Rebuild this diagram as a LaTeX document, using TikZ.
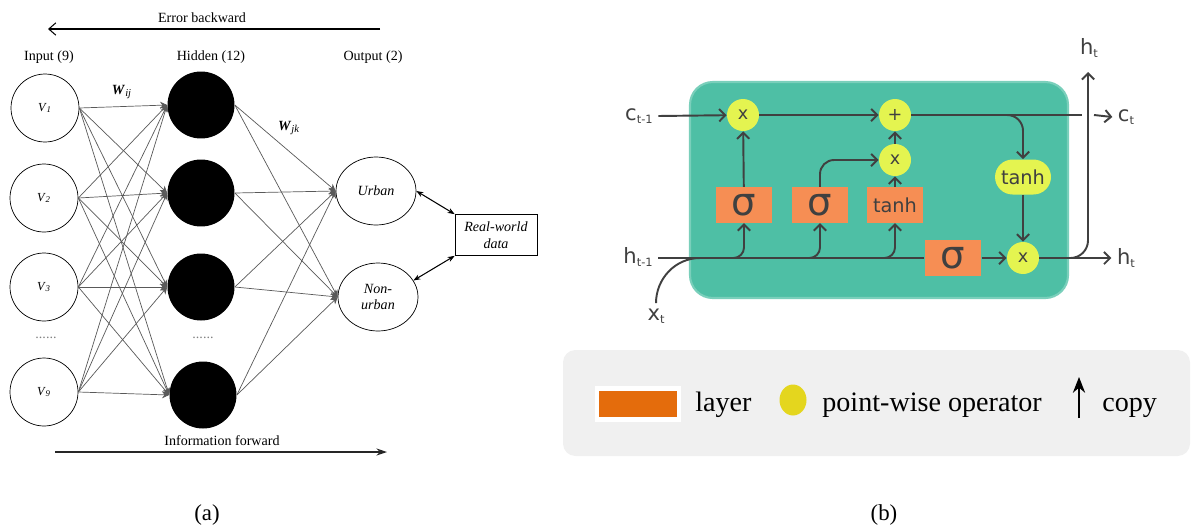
\documentclass[tikz,border=0pt]{standalone}
\usepackage{fontspec}
\setmainfont{Liberation Serif}
\newfontfamily\cellfont{DejaVu Sans}
\usepackage{tikz}
\usetikzlibrary{shapes.geometric, arrows.meta, positioning}

\definecolor{cellgreen}{RGB}{78,191,165}
\definecolor{gateorange}{RGB}{246,142,84}
\definecolor{opyellow}{RGB}{228,244,80}
\definecolor{ink}{RGB}{64,64,64}
\definecolor{keyorange}{RGB}{228,108,12}
\definecolor{keyyellow}{RGB}{228,214,30}
\definecolor{keygray}{RGB}{240,240,240}

\newcommand{\vin}[1]{\textit{V}\textsubscript{\textit{#1}}}
\newcommand{\tsub}[1]{\raisebox{-0.25ex}{\fontsize{6.5}{6.5}\selectfont #1}}

\tikzstyle{heading} = [font=\fontsize{8}{9.5}\selectfont]
\tikzstyle{inputnode} = [circle, minimum size=1.36cm, inner sep=0pt, draw=black, thin, fill=white, font=\fontsize{7}{8}\selectfont]
\tikzstyle{hiddennode} = [circle, minimum size=1.34cm, inner sep=0pt, fill=black]
\tikzstyle{outputnode} = [ellipse, minimum width=1.6cm, minimum height=1.36cm, inner sep=0pt, draw=black, thin, fill=white, align=center, font=\fontsize{8}{9.5}\selectfont\itshape]
\tikzstyle{databox} = [rectangle, minimum width=1.64cm, minimum height=0.82cm, draw=black, thin, align=center, font=\fontsize{8}{9.5}\selectfont\itshape]
\tikzstyle{link} = [draw=gray!70!black, line width=0.4pt, -{Stealth[length=4pt, width=4pt]}]
\tikzstyle{gate} = [rectangle, minimum width=1.13cm, minimum height=0.71cm, inner sep=0pt, fill=gateorange, text=ink, font=\cellfont\fontsize{22}{22}\selectfont]
\tikzstyle{pointwise} = [circle, minimum size=0.64cm, inner sep=0pt, fill=opyellow, text=ink, font=\cellfont\fontsize{10}{10}\selectfont]
\tikzstyle{tag} = [inner sep=0pt, text=ink, font=\cellfont\fontsize{12}{12}\selectfont]
\tikzstyle{wire} = [draw=ink, line width=1.1pt]
\tikzstyle{flow} = [wire, -{Straight Barb[length=3.5pt, width=7pt]}]
\tikzstyle{keytext} = [inner sep=0pt, anchor=base west, font=\fontsize{16}{18}\selectfont]

\begin{document}
\begin{tikzpicture}[x=0.02cm, y=-0.02cm]
	\useasboundingbox (0,0) rectangle (1192,531);

	% ---------- (a) feed-forward network ----------
	\node (errtext) [heading] at (202,18) {Error backward};
	\coordinate (errstart) at (380,29);
	\coordinate (errend) at (48,29);
	\draw [-{Straight Barb[length=4pt, width=7pt]}, line width=0.6pt] (errstart) -- (errend);

	\node (intitle) [heading] at (49,57) {Input (9)};
	\node (hidtitle) [heading] at (211,57) {Hidden (12)};
	\node (outtitle) [heading] at (373,57) {Output (2)};

	\node (in1) [inputnode] at (45,108) {\vin{1}};
	\node (in2) [inputnode] at (44,198) {\vin{2}};
	\node (in3) [inputnode] at (44,287) {\vin{3}};
	\node (in9) [inputnode] at (44,392) {\vin{9}};
	\node (indots) [heading, text=gray] at (46,338) {......};

	\node (hid1) [hiddennode] at (201,105) {};
	\node (hid2) [hiddennode] at (201,193) {};
	\node (hid3) [hiddennode] at (201,287) {};
	\node (hid4) [hiddennode] at (203,395) {};
	\node (hiddots) [heading, text=gray] at (203,338) {......};

	\node (urban) [outputnode] at (376,191) {Urban};
	\node (nonurban) [outputnode] at (378,297) {Non-\\urban};
	\node (data) [databox] at (496,235) {Real-world\\data};

	\foreach \i in {1,2,3,9}
		\foreach \j in {1,2,3,4}
			\draw [link] (in\i.east) -- (hid\j.west);
	\foreach \j in {1,2,3,4}
		\foreach \k in {urban,nonurban}
			\draw [link] (hid\j.east) -- (\k.west);

	\draw [{Stealth[length=4pt]}-{Stealth[length=4pt]}, line width=0.6pt] (urban.east) -- (data.north west);
	\draw [{Stealth[length=4pt]}-{Stealth[length=4pt]}, line width=0.6pt] (nonurban.25) -- (data.south west);

	\node (wij) [heading] at (122,92) {\textbf{\textit{W}}\textsubscript{\textit{ij}}};
	\node (wjk) [heading] at (289,128) {\textbf{\textit{W}}\textsubscript{\textit{jk}}};

	\node (fwdtext) [heading] at (222,441) {Information forward};
	\coordinate (fwdstart) at (55,452);
	\coordinate (fwdend) at (387,452);
	\draw [-{Stealth[length=6pt, width=4pt]}, line width=1pt, gray!30!black] (fwdstart) -- (fwdend);

	\node (capa) [font=\fontsize{13}{15}\selectfont] at (207,515) {(a)};
	\node (capb) [font=\fontsize{13}{15}\selectfont] at (884,515) {(b)};

	% ---------- (b) LSTM cell ----------
	\draw [cellgreen!75, line width=1.2pt, fill=cellgreen, rounded corners=13pt] (690,82) rectangle (1068,298);

	\node (cprev) [tag, anchor=east] at (653,116) {c\tsub{t-1}};
	\node (hprev) [tag, anchor=east] at (653,257) {h\tsub{t-1}};
	\node (xt) [tag] at (656,316) {x\tsub{t}};

	\node (mul1) [pointwise] at (743,115) {x};
	\node (add) [pointwise] at (895,115) {+};
	\node (mul2) [pointwise] at (895,160) {x};
	\node (mul3) [pointwise] at (1023,258) {x};
	\node (squash) [pointwise, rectangle, rounded corners=10pt, minimum width=1.12cm, minimum height=0.7cm, font=\cellfont\fontsize{11}{11}\selectfont] at (1023,177) {tanh};

	\node (forget) [gate] at (744,205) {σ};
	\node (inputg) [gate] at (820,205) {σ};
	\node (cand) [gate, font=\cellfont\fontsize{11}{11}\selectfont] at (895,205) {tanh};
	\node (outg) [gate] at (953,258) {σ};

	\node (ctout) [tag] at (1126,117) {c\tsub{t}};
	\node (htout) [tag] at (1126,258) {h\tsub{t}};
	\node (httop) [tag] at (1089,48) {h\tsub{t}};

	% cell state
	\coordinate (ctgap) at (1082,115);
	\coordinate (ctresume) at (1094,115);
	\coordinate (cfork) at (1003,115);
	\draw [flow] ([xshift=3pt]cprev.east) -- (mul1);
	\draw [flow] (mul1) -- (add);
	\draw [wire] (add) -- (ctgap);
	\draw [flow] (ctresume) -- ([xshift=-3pt]ctout.west);
	\draw [flow, rounded corners=9pt] (cfork) -| (squash.north);
	\draw [flow] (squash) -- (mul3);

	% gates
	\draw [flow] (forget) -- (mul1);
	\draw [flow, rounded corners=8pt] (inputg.north) |- (mul2.west);
	\draw [flow] (cand) -- (mul2);
	\draw [flow] (mul2) -- (add);

	% hidden state
	\coordinate (hstart) at (658,258);
	\coordinate (xjoin) at (700,258);
	\coordinate (fork1) at (727,258);
	\coordinate (fork2) at (803,258);
	\coordinate (fork3) at (878,258);
	\coordinate (hsplit) at (1066,258);
	\coordinate (htip) at (1088,72);
	\draw [wire] (hstart) -- (outg.west);
	\draw [wire] ([yshift=3pt]xt.north) to [out=90, in=180] (xjoin);
	\foreach \f/\g in {fork1/forget, fork2/inputg, fork3/cand}
		\draw [flow, rounded corners=6pt] (\f) -| (\g.south);
	\draw [flow] (outg) -- (mul3);
	\draw [flow] (mul3) -- ([xshift=-3pt]htout.west);
	\draw [flow, rounded corners=10pt] (hsplit) -| (htip);

	% legend
	\fill [keygray, rounded corners=7pt] (563,350) rectangle (1190,456);
	\node (keylayer) [rectangle, draw=white, line width=2.5pt, fill=keyorange, minimum width=1.63cm, minimum height=0.62cm, inner sep=0pt] at (638,404) {};
	\node (keylayertext) [keytext] at (695,411) {layer};
	\node (keyop) [ellipse, fill=keyyellow, minimum width=0.54cm, minimum height=0.62cm, inner sep=0pt] at (793,400) {};
	\node (keyoptext) [keytext] at (822,411) {point-wise operator};
	\coordinate (copybot) at (1079,418);
	\coordinate (copytop) at (1079,377);
	\draw [-{Stealth[length=9pt, width=7pt]}, line width=0.9pt] (copybot) -- (copytop);
	\node (keycopytext) [keytext] at (1102,411) {copy};
\end{tikzpicture}
\end{document}
